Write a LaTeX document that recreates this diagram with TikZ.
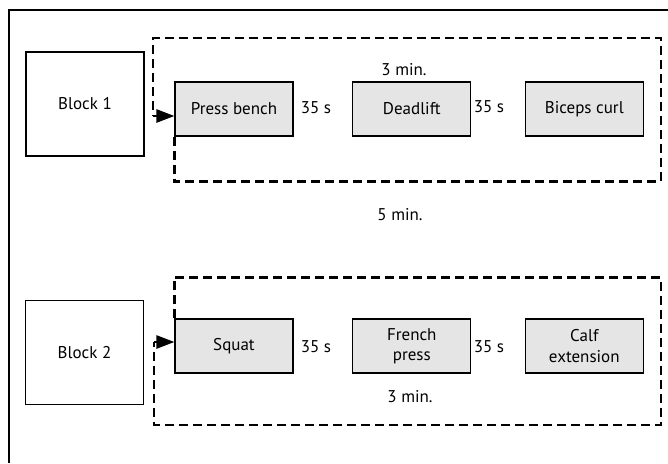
\documentclass[tikz,border=0pt]{standalone}
\usepackage{fontspec}
\setmainfont{PT Sans}
\usetikzlibrary{positioning,arrows.meta}
\begin{document}
\begin{tikzpicture}[x=1pt,y=-1pt]
  \tikzstyle{blockbox} = [draw, rectangle, line width=1.1pt, minimum width=118pt, inner sep=0pt, align=center, font=\fontsize{17}{20.5}\selectfont]
  \tikzstyle{exercise} = [blockbox, fill=black!10, minimum height=54pt]
  \tikzstyle{group} = [blockbox, minimum height=104pt]
  \tikzstyle{roundtrip} = [line width=2.5pt, dash pattern=on 9pt off 5pt]
  \tikzstyle{entry} = [line width=2.5pt, -{Triangle[length=18pt,width=13pt]}]
  \tikzstyle{lbl} = [inner sep=0pt, font=\fontsize{17}{20.5}\selectfont]
  \useasboundingbox (0,0) rectangle (668,463);
  \draw[line width=2.8pt] (9,463) -- (9,10) -- (668,10);

  % first block
  \node [group] (block1) at (85,104) {Block 1};
  \node [exercise] (press) at (234,109) {Press bench};
  \node [exercise, right = 58.7pt of press] (deadlift) {Deadlift};
  \node [exercise, right = 53.4pt of deadlift] (curl) {Biceps curl};
  \node [lbl] (restA) at (316,108) {35 s};
  \node [lbl] (restB) at (489,107) {35 s};
  \node [lbl] (setA) at (404,70) {3 min.};
  \node [lbl] (pause) at (400,215) {5 min.};
  \coordinate (in1) at (153,116);
  \draw [roundtrip] (press.south west) -- ++(0,45) -| (661,38) -| (in1);
  \draw [entry] (in1) -- (in1 -| press.west);

  % second block
  \node [group] (block2) at (84.5,352.7) {Block 2};
  \node [exercise] (squat) at (234,346) {Squat};
  \node [exercise, right = 58.7pt of squat] (french) {French\\press};
  \node [exercise, right = 53.4pt of french] (calf) {Calf\\extension};
  \node [lbl] (restC) at (316,346.7) {35 s};
  \node [lbl] (restD) at (489,346.7) {35 s};
  \node [lbl] (setB) at (410,397) {3 min.};
  \coordinate (in2) at (154,342);
  \draw [roundtrip] (squat.north west) -- ++(0,-41) -| (661,425) -| (in2);
  \draw [entry] (in2) -- (in2 -| squat.west);
\end{tikzpicture}
\end{document}
